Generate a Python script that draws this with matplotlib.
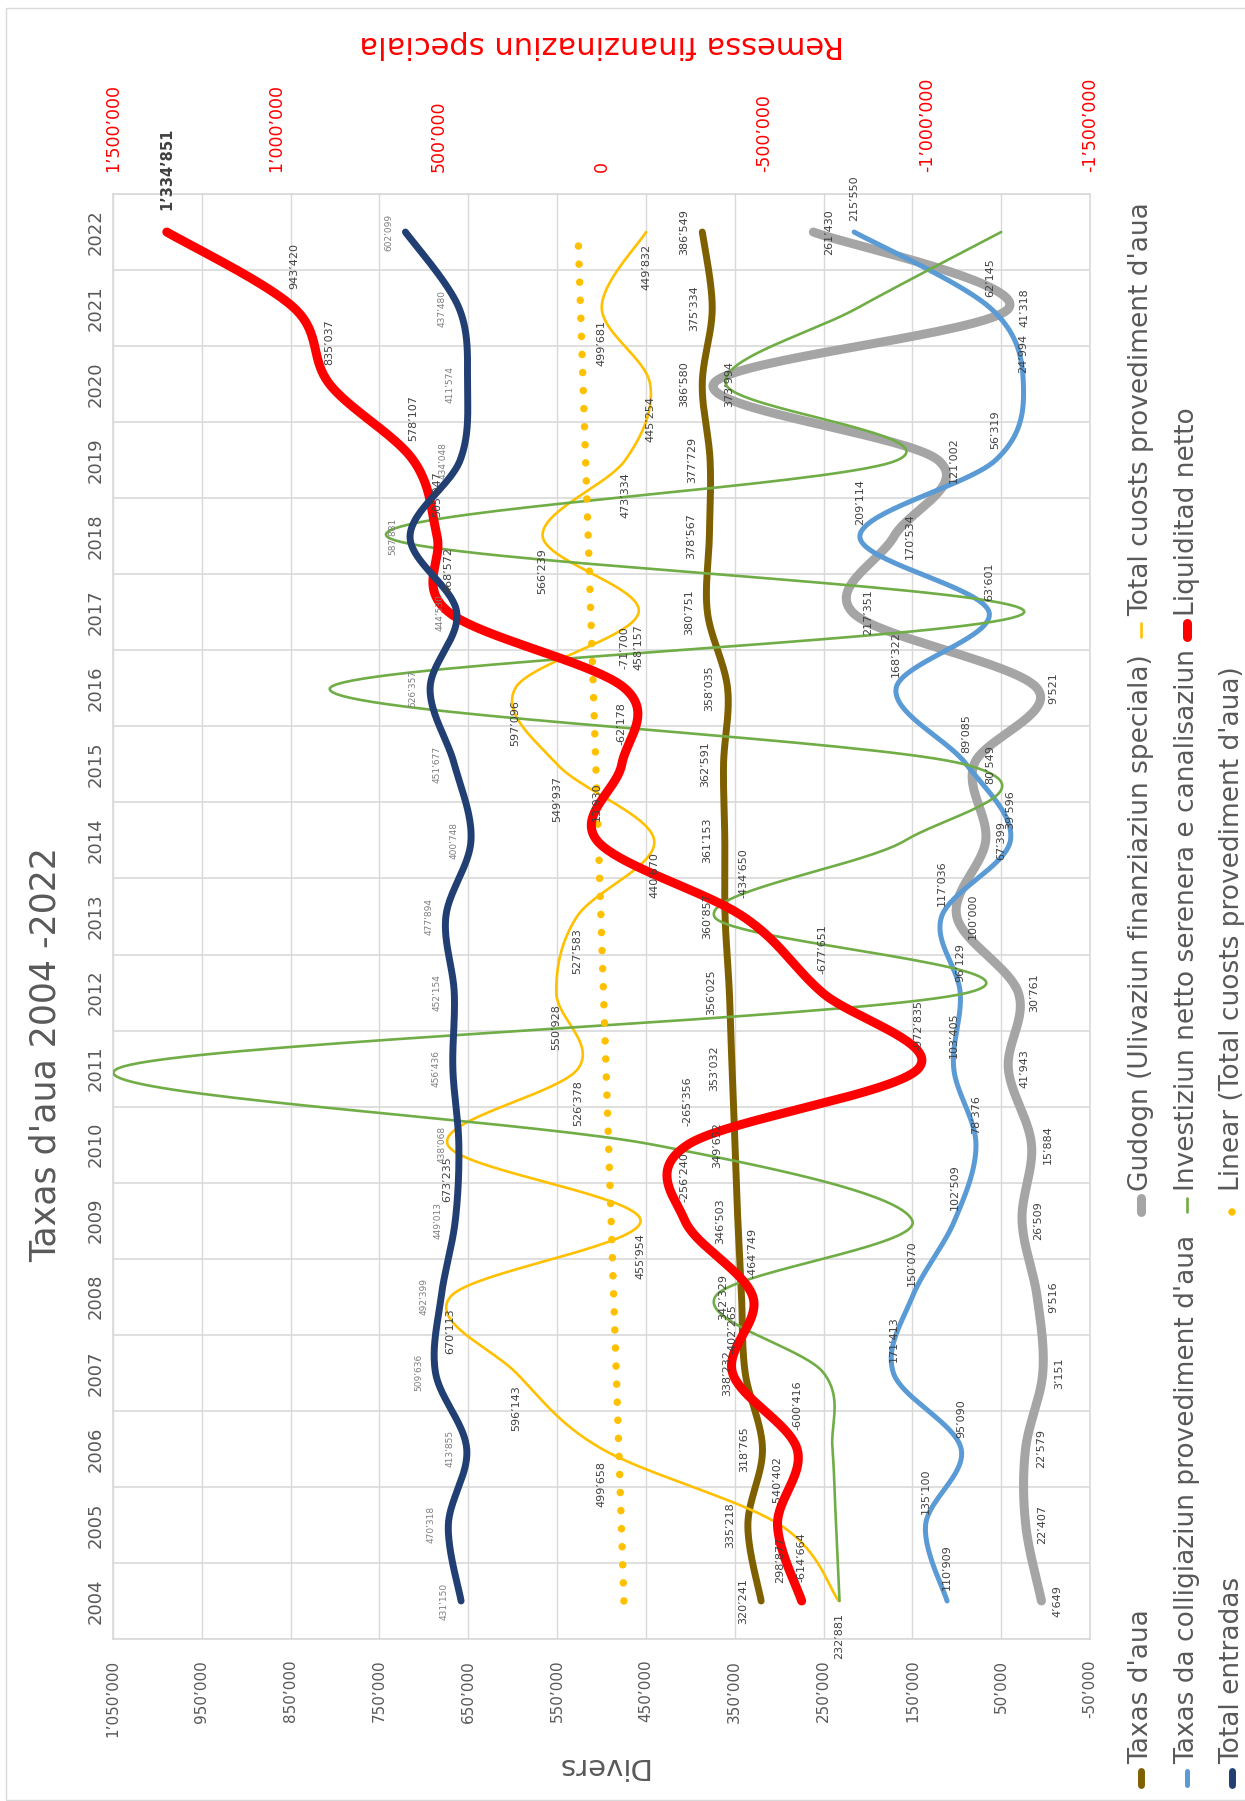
import numpy as np
import matplotlib
matplotlib.use("Agg")
import matplotlib.pyplot as plt
from matplotlib.lines import Line2D
from matplotlib.patches import Rectangle

plt.rcParams['font.family'] = ['DejaVu Sans']

# ---------------- data ----------------
years = list(range(2004, 2023))
taxas_aua = [320241, 335218, 318765, 338232, 342329, 346503, 349652, 353032, 356025, 360857,
             361153, 362591, 358035, 380751, 378567, 377729, 386580, 375334, 386549]
gudogn = [4649, 22407, 22579, 3151, 9516, 26509, 15884, 41943, 30761, 100000,
          67399, 80549, 9521, 217351, 170534, 121002, 373994, 41318, 261430]
cuosts = [232881, 298877, 499658, 596143, 670113, 455954, 673235, 526378, 550928, 527583,
          440670, 549937, 597096, 458157, 566239, 473334, 445254, 499681, 449832]
colligiaziun = [110909, 135100, 95090, 171413, 150070, 102509, 78376, 103405, 96129, 117036,
                39596, 89085, 168322, 63601, 209114, 56319, 24994, 62145, 215550]
investiziun = [232000, 236000, 240000, 250000, 372000, 150000, 442000, 1045000, 87000, 373000,
               158000, 91000, 806000, 24000, 742000, 167000, 360000, 212000, 50000]
liquiditad = [-614664, -540402, -600416, -402265, -464749, -256240, -265356, -972835, -677651, -434650,
              13930, -62178, -71700, 468572, 505047, 578107, 835037, 943420, 1334851]
total_entradas = [431150, 470318, 413855, 509636, 492399, 449013, 438068, 456436, 452154, 477894,
                  400748, 451677, 526357, 444530, 587881, 434048, 411574, 437480, 602099]

primary_ticks = list(range(-50000, 1050001, 100000))
secondary_ticks = [1500000, 1000000, 500000, 0, -500000, -1000000, -1500000]

series_names = ["Taxas d'aua", "Gudogn (Ulivaziun finanziaziun speciala)", "Total cuosts provediment d'aua",
                "Taxas da colligiaziun provediment d'aua", "Investiziun netto serenera e canalisaziun",
                "Liquiditad netto", "Total entradas", "Linear (Total cuosts provediment d'aua)"]

title = "Taxas d'aua 2004 -2022"
left_label = "Divers"
right_label = "Remessa finanzinaziun speciala"

C_OLIVE = "#7F6000"
C_GRAY = "#A5A5A5"
C_YELLOW = "#FFC000"
C_BLUE = "#5B9BD5"
C_GREEN = "#70AD47"
C_RED = "#FF0000"
C_NAVY = "#223F74"
C_TXT = "#595959"
C_LBL = "#404040"


def fmt(v):
    return f"{v:,.0f}".replace(",", "\u2019")


def smooth(xs, ys, n=40):
    P = np.column_stack([xs, ys]).astype(float)
    m = len(P)
    out = [P[0]]
    t = np.linspace(0, 1, n)[1:, None]
    for i in range(m - 1):
        p0 = P[i - 1] if i > 0 else P[i]
        p1, p2 = P[i], P[i + 1]
        p3 = P[i + 2] if i + 2 < m else P[i + 1]
        c1 = p1 + (p2 - p0) / 6.0
        c2 = p2 - (p3 - p1) / 6.0
        B = (1 - t) ** 3 * p1 + 3 * (1 - t) ** 2 * t * c1 + 3 * (1 - t) * t ** 2 * c2 + t ** 3 * p2
        out.extend(B)
    out = np.array(out)
    return out[:, 0], out[:, 1]


W, H = 1245, 1801
fig = plt.figure(figsize=(W / 100, H / 100), dpi=100)

L, R, T, B = 113, 1090, 194, 1639
ax = fig.add_axes([L / W, 1 - B / H, (R - L) / W, (B - T) / H])
ax.set_xlim(1050000, -50000)
ax.set_ylim(years[0] - 0.5, years[-1] + 0.5)

ax.set_xticks(primary_ticks)
ax.set_xticklabels([fmt(v) for v in primary_ticks], rotation=90, color=C_TXT, fontsize=11)
ax.set_yticks(years)
ax.set_yticklabels([str(y) for y in years], rotation=90, color=C_TXT, fontsize=13, va='center')
ax.set_yticks([y + 0.5 for y in [years[0] - 1] + years], minor=True)
ax.tick_params(axis='x', length=0, pad=15)
ax.tick_params(axis='y', which='both', length=0, pad=6)
ax.grid(axis='x', color="#D9D9D9", lw=1)
ax.grid(axis='y', which='minor', color="#D9D9D9", lw=1.2)
for s in ax.spines.values():
    s.set_color("#D9D9D9")
    s.set_linewidth(1.2)
ax.set_axisbelow(True)

ax2 = ax.twiny()
ax2.set_xlim(1500000, -1500000)
ax2.set_xticks(secondary_ticks)
ax2.set_xticklabels([fmt(v) for v in secondary_ticks], rotation=90, color=C_RED, fontsize=12.5)
ax2.tick_params(axis='x', length=0, pad=16)
for s in ax2.spines.values():
    s.set_visible(False)

# primary series
prim = [(taxas_aua, C_OLIVE, 5.0), (gudogn, C_GRAY, 6.5), (cuosts, C_YELLOW, 1.9),
        (colligiaziun, C_BLUE, 3.6), (investiziun, C_GREEN, 1.9)]
for vals, col, lw in prim:
    yy, vv = smooth(years, vals)
    ax.plot(vv, yy, color=col, lw=lw, solid_capstyle='round', zorder=3)

# linear trend of total cuosts
idx = np.arange(len(years))
k, d = np.polyfit(idx, cuosts, 1)
trend = k * idx + d
ax.plot(trend, years, color=C_YELLOW, lw=5.4, linestyle=(0, (0.01, 2.4)),
        dash_capstyle='round', zorder=4)

# secondary series
for vals, col, lw in [(liquiditad, C_RED, 6.5), (total_entradas, C_NAVY, 5.0)]:
    yy, vv = smooth(years, vals)
    ax2.plot(vv, yy, color=col, lw=lw, solid_capstyle='round', zorder=3)

# data labels
px = 0.72


def lab(vals, trans, dx, dy, ha, size=8, color=C_LBL, weight='normal', skip=()):
    for y, v in zip(years, vals):
        if y in skip:
            continue
        ax2.annotate(fmt(v), xy=(v, y), xycoords=trans, xytext=(dx * px, dy * px),
                     textcoords='offset points', rotation=90, rotation_mode='anchor',
                     ha=ha, va='center', fontsize=size, color=color, fontweight=weight,
                     annotation_clip=False, zorder=10)


lab(taxas_aua, ax.transData, -18, 0, 'center')
lab(gudogn, ax.transData, 16, 0, 'center')
lab(cuosts, ax.transData, 0, -12, 'right')
lab(colligiaziun, ax.transData, 0, 11, 'left')
lab(liquiditad, ax2.transData, 0, 19, 'left', skip=(2022,))
lab(total_entradas, ax2.transData, -17, 0, 'center', size=6.5, color="#7F7F7F")
ax2.annotate(fmt(liquiditad[-1]), xy=(liquiditad[-1], years[-1]), xycoords=ax2.transData,
             xytext=(0, 22 * px), textcoords='offset points', rotation=90,
             rotation_mode='anchor', ha='left', va='center', fontsize=10.5,
             fontweight='bold', color=C_LBL, annotation_clip=False)

# titles
fig.text(46 / W, 1 - 1054 / H, title, rotation=90, ha='center', va='center',
         fontsize=25, color=C_TXT)
fig.text((L + R) / 2 / W, 1 - 1766 / H, left_label, rotation=180, ha='center', va='center',
         fontsize=21, color=C_TXT)
fig.text((L + R) / 2 / W, 1 - 45 / H, right_label, rotation=180, ha='center', va='center',
         fontsize=22, color=C_RED)

# legend (rotated, manual)
leg_items = [
    (1141, 1778, series_names[0], C_OLIVE, 5.0, '-'),
    (1141, 1205, series_names[1], C_GRAY, 6.5, '-'),
    (1141, 630, series_names[2], C_YELLOW, 1.9, '-'),
    (1187, 1778, series_names[3], C_BLUE, 3.6, '-'),
    (1187, 1205, series_names[4], C_GREEN, 1.9, '-'),
    (1187, 630, series_names[5], C_RED, 6.5, '-'),
    (1232, 1778, series_names[6], C_NAVY, 5.0, '-'),
    (1232, 1205, series_names[7], C_YELLOW, 5.4, 'dot'),
]
for xc, yc, txt, col, lw, st in leg_items:
    x = xc / W
    if st == 'dot':
        fig.add_artist(Line2D([x, x], [1 - (yc + 7) / H, 1 - (yc - 7) / H], transform=fig.transFigure,
                              color=col, lw=lw, linestyle=(0, (0.01, 2.4)), dash_capstyle='round'))
    else:
        fig.add_artist(Line2D([x, x], [1 - (yc + 7) / H, 1 - (yc - 7) / H], transform=fig.transFigure,
                              color=col, lw=lw, solid_capstyle='round'))
    fig.text(x, 1 - (yc - 14) / H, txt, rotation=90, rotation_mode='anchor', ha='left',
             va='center', fontsize=19, color=C_TXT)

fig.add_artist(Rectangle((6 / W, 1 / H), 1.2, 1 - 9 / H, transform=fig.transFigure,
                         fill=False, edgecolor="#D9D9D9", lw=1))

fig.savefig("out.png", dpi=100)
